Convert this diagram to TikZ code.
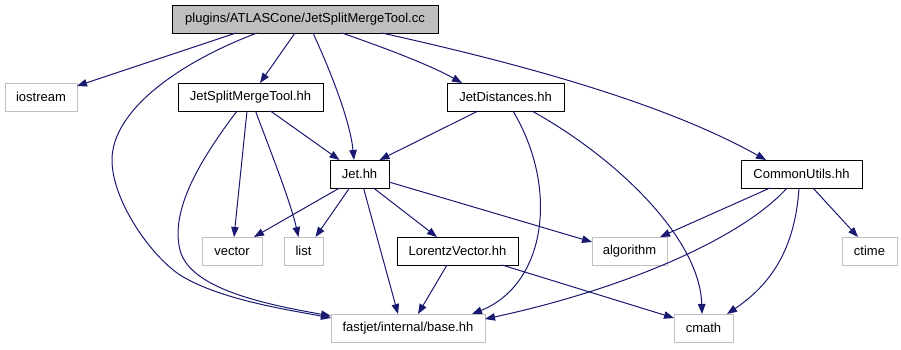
\documentclass[tikz,border=0pt]{standalone}
\usepackage{fontspec}
\setmainfont{Liberation Sans}
\usetikzlibrary{arrows.meta}
\definecolor{edgeblue}{HTML}{191970}
\definecolor{extgray}{HTML}{BFBFBF}
\tikzset{
  box/.style={draw=black, line width=1pt, minimum height=28pt, inner sep=0pt, outer sep=0pt, font=\fontsize{13}{15}\selectfont, text=black},
  extbox/.style={box, draw=extgray},
  rootbox/.style={box, fill=extgray},
  dep/.style={draw=edgeblue, line width=1pt, -{Triangle[length=10pt,width=7.5pt]}, fill=none},
}
\begin{document}
\begin{tikzpicture}[x=1pt,y=-1pt]
\useasboundingbox (0,0) rectangle (901,349);
% nodes
\node[rootbox, minimum width=266pt] (root) at (305,19) {plugins/ATLASCone/JetSplitMergeTool.cc};
\node[extbox, minimum width=72pt] (iostream) at (41,97) {iostream};
\node[box, minimum width=145pt] (jsmt) at (250.5,97) {JetSplitMergeTool.hh};
\node[box, minimum width=117pt] (jd) at (505.5,97) {JetDistances.hh};
\node[box, minimum width=59pt] (jet) at (359.5,174) {Jet.hh};
\node[box, minimum width=121pt] (cu) at (801.5,174) {CommonUtils.hh};
\node[extbox, minimum width=60pt] (vector) at (232,251) {vector};
\node[extbox, minimum width=39pt] (list) at (303.5,251) {list};
\node[box, minimum width=121pt] (lv) at (457.5,251) {LorentzVector.hh};
\node[extbox, minimum width=75pt] (alg) at (629.5,251) {algorithm};
\node[extbox, minimum width=55pt] (ctime) at (869.5,251) {ctime};
\node[extbox, minimum width=154pt] (base) at (408,328) {fastjet/internal/base.hh};
\node[extbox, minimum width=59pt] (cmath) at (703.5,328) {cmath};
% root edges
\draw[dep] ([xshift=-69pt]root.south) -- ([yshift=-3pt]iostream.north east);
\draw[dep] ([xshift=-48pt]root.south) .. controls (180,62) and (112,110) .. (112,160)
  .. controls (112,200) and (150,255) .. (180,275)
  .. controls (220,300) and (290,310) .. ([yshift=10pt]base.west);
\draw[dep] ([xshift=-10pt]root.south) -- ([xshift=9.5pt]jsmt.north);
\draw[dep] ([xshift=8pt]root.south) .. controls (330,70) and (350,120) .. ([xshift=-5.5pt]jet.north);
\draw[dep] ([xshift=37pt]root.south) .. controls (385,48) and (430,65) .. ([xshift=-43.5pt]jd.north);
\draw[dep] ([xshift=77pt]root.south) .. controls (480,55) and (650,95) .. ([xshift=-35.5pt]cu.north);
% JetSplitMergeTool.hh edges
\draw[dep] ([xshift=-13.5pt]jsmt.south) .. controls (200,160) and (170,210) .. (180,250)
  .. controls (190,290) and (270,305) .. ([yshift=12pt]base.west);
\draw[dep] ([xshift=-3.5pt]jsmt.south) -- ([xshift=2pt]vector.north);
\draw[dep] ([xshift=5pt]jsmt.south) .. controls (270,150) and (290,200) .. ([xshift=-5pt]list.north);
\draw[dep] ([xshift=20pt]jsmt.south) -- ([xshift=-20pt]jet.north);
% JetDistances.hh edges
\draw[dep] ([xshift=-27.5pt]jd.south) -- ([xshift=20pt]jet.north);
\draw[dep] ([xshift=7.5pt]jd.south) .. controls (560,190) and (545,285) .. ([xshift=-13pt]base.north east);
\draw[dep] ([xshift=26.5pt]jd.south) .. controls (620,160) and (700,240) .. ([xshift=-1.5pt]cmath.north);
% Jet.hh edges
\draw[dep] ([xshift=-20pt]jet.south) -- ([xshift=22pt]vector.north);
\draw[dep] ([xshift=-10pt]jet.south) -- ([xshift=12pt]list.north);
\draw[dep] ([xshift=4pt]jet.south) -- ([xshift=-10pt]base.north);
\draw[dep] ([xshift=14pt]jet.south) -- ([xshift=-20.5pt]lv.north);
\draw[dep] ([yshift=-8pt]jet.east) -- ([yshift=9pt]alg.west);
% LorentzVector.hh edges
\draw[dep] ([xshift=-10.5pt]lv.south) -- ([xshift=10pt]base.north);
\draw[dep] ([xshift=44.5pt]lv.south) -- ([yshift=10pt]cmath.west);
% CommonUtils.hh edges
\draw[dep] ([xshift=-31.5pt]cu.south) -- ([xshift=30.5pt]alg.north);
\draw[dep] ([xshift=-14.5pt]cu.south) .. controls (740,240) and (620,290) .. ([yshift=9pt]base.east);
\draw[dep] ([xshift=-2.5pt]cu.south) .. controls (795,250) and (770,285) .. ([xshift=-6pt]cmath.north east);
\draw[dep] ([xshift=11.5pt]cu.south) -- ([xshift=-11.5pt]ctime.north);
\end{tikzpicture}
\end{document}
